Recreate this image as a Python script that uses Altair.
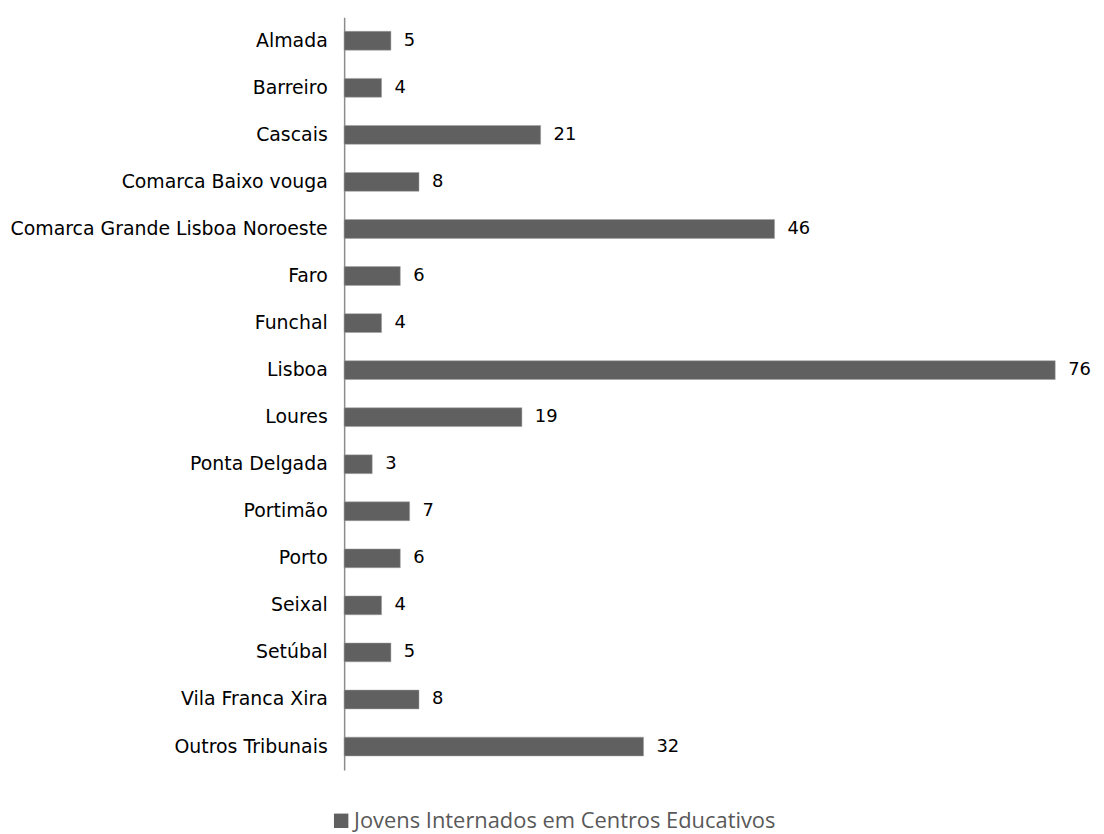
import altair as alt
import pandas as pd

categories = ["Almada", "Barreiro", "Cascais", "Comarca Baixo vouga",
              "Comarca Grande Lisboa Noroeste", "Faro", "Funchal", "Lisboa",
              "Loures", "Ponta Delgada", "Portimão", "Porto", "Seixal",
              "Setúbal", "Vila Franca Xira", "Outros Tribunais"]
values = [5, 4, 21, 8, 46, 6, 4, 76, 19, 3, 7, 6, 4, 5, 8, 32]
series = "Jovens Internados em Centros Educativos"

df = pd.DataFrame({"cat": categories, "val": values, "serie": series})

FONT = "DejaVu Sans"

y = alt.Y("cat:N", sort=categories, title=None,
          scale=alt.Scale(paddingInner=0.6, paddingOuter=0.3),
          axis=alt.Axis(ticks=False, labelPadding=17, labelFontSize=19,
                        labelColor="#000000", labelFont=FONT,
                        domainColor="#8c8c8c", domainWidth=1.5, labelLimit=400))
x = alt.X("val:Q", title=None, scale=alt.Scale(domain=[0, 76], nice=False),
          axis=None)

bars = alt.Chart(df).mark_bar(stroke="#a0a0a0", strokeWidth=0.5).encode(
    y=y, x=x,
    color=alt.Color("serie:N", scale=alt.Scale(range=["#606060"]),
                    legend=alt.Legend(title=None, orient="none", legendX=-14,
                                      legendY=797, symbolType="square",
                                      symbolSize=210, symbolStrokeWidth=0,
                                      labelFontSize=22, labelFont="Open Sans",
                                      labelColor="#595959", labelLimit=600,
                                      labelOffset=2)))

labels = alt.Chart(df).mark_text(align="left", dx=13, fontSize=18, font=FONT,
                                 color="#000000").encode(
    y=alt.Y("cat:N", sort=categories), x="val:Q", text="val:Q")

chart = (bars + labels).properties(
    width=715, height=757, background="white",
    padding={"top": 7, "left": 1, "right": 5, "bottom": 0}
).configure_view(stroke="transparent", strokeWidth=0)

chart.save("out.html", embed_options={"renderer": "svg", "actions": False})
